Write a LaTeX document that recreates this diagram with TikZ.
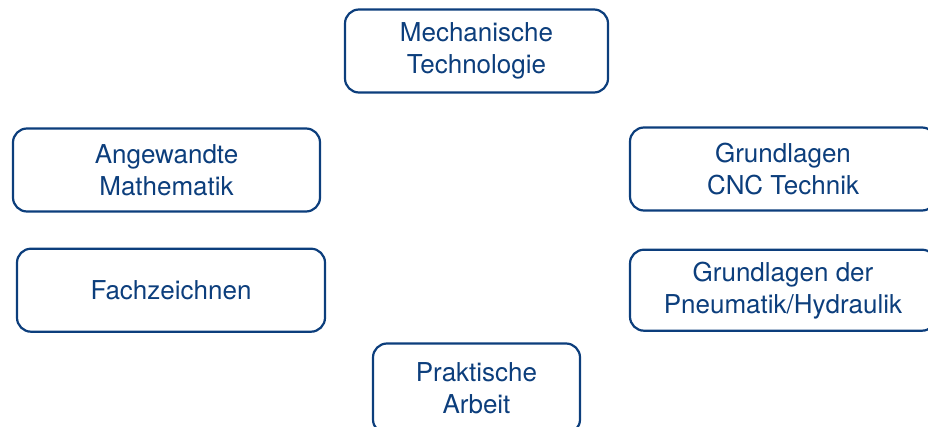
\documentclass[tikz,border=0pt]{standalone}
\usepackage{fontspec}
\setmainfont{TeX Gyre Heros}
\usetikzlibrary{positioning}
\definecolor{navy}{RGB}{12,62,124}

\begin{document}
\begin{tikzpicture}[x=1pt, y=1pt,
		box/.style={draw=navy, text=navy, line width=2.2pt, rounded corners=14pt, minimum height=83pt, align=center, font=\fontsize{26}{32}\selectfont}]
		\useasboundingbox (0,0) rectangle (928,-427);
		\node[box, minimum width=263pt] (mech) at (476.5,-51) {Mechanische\\Technologie};
		\node[box, minimum width=307pt] (angew) at (166.5,-170) {Angewandte\\Mathematik};
		\node[box, minimum width=306pt] (cnc) at (783,-169) {Grundlagen\\CNC Technik};
		\node[box, minimum width=308pt, below=35pt of angew.south, xshift=4.5pt, anchor=north] (fach) {Fachzeichnen};
		\node[box, minimum width=306pt, minimum height=81pt, below=37pt of cnc.south, anchor=north] (pneu) {Grundlagen der\\Pneumatik/Hydraulik};
		\node[box, minimum width=207pt, minimum height=90pt, below=334pt of mech.north, anchor=north] (prak) {Praktische\\Arbeit};
	\end{tikzpicture}
\end{document}
